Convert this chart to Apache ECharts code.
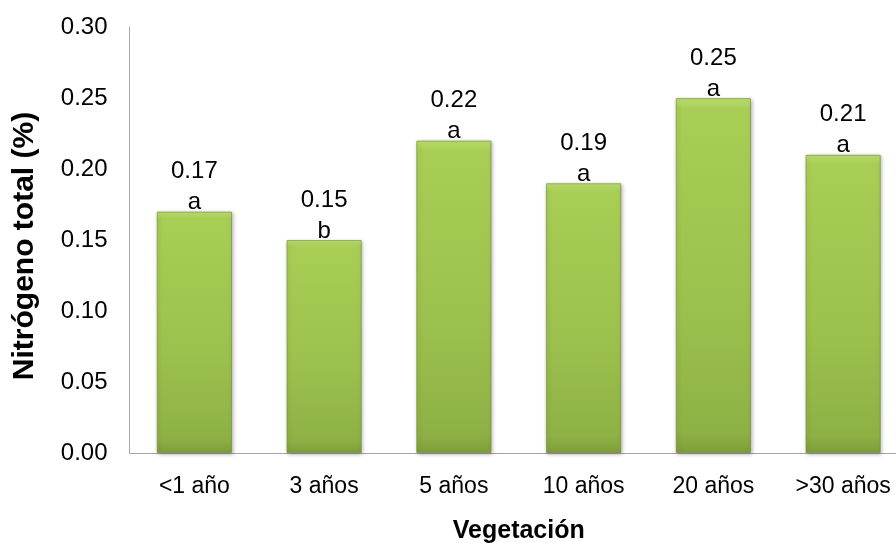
<!DOCTYPE html>
<html><head><meta charset="utf-8">
<script src="https://cdn.jsdelivr.net/npm/echarts@6/dist/echarts.min.js"></script>
<style>html,body{margin:0;padding:0;background:#fff}#c{width:896px;height:543px}</style>
</head><body><div id="c"></div>
<script>
var categories = ['<1 año', '3 años', '5 años', '10 años', '20 años', '>30 años'];
var values = [0.17, 0.15, 0.22, 0.19, 0.25, 0.21];
var letters = ['a', 'b', 'a', 'a', 'a', 'a'];
var yTicks = [0, 0.05, 0.10, 0.15, 0.20, 0.25, 0.30];

var chart = echarts.init(document.getElementById('c'));
var data = values.map(function (v, i) {
  return { value: v, letter: letters[i] };
});
chart.setOption({
  animation: false,
  grid: { left: 129.5, top: 27, width: 778.5, height: 426, outerBoundsMode: 'none', containLabel: false },
  xAxis: {
    type: 'category', data: categories,
    name: 'Vegetación', nameLocation: 'middle', nameGap: 66,
    nameTextStyle: { fontFamily: 'Liberation Sans', fontWeight: 'bold', fontSize: 25, color: '#000' },
    axisLine: { lineStyle: { color: '#a6a6a6', width: 1 } },
    axisTick: { show: false },
    axisLabel: { fontFamily: 'Liberation Sans', fontSize: 23, color: '#000', margin: 22 }
  },
  yAxis: {
    type: 'value', min: yTicks[0], max: yTicks[yTicks.length - 1], interval: 0.05,
    name: 'Nitrógeno total (%)', nameLocation: 'middle', nameGap: 90,
    nameTextStyle: { fontFamily: 'Liberation Sans', fontWeight: 'bold', fontSize: 30, color: '#000', padding: [0, 12, 0, 0] },
    axisLine: { show: true, lineStyle: { color: '#a6a6a6', width: 1 } },
    axisTick: { show: false },
    splitLine: { show: false },
    axisLabel: { fontFamily: 'Liberation Sans', fontSize: 24, color: '#000', margin: 22,
      formatter: function (v) { return v.toFixed(2); } }
  },
  series: [{
    type: 'bar', data: data, barCategoryGap: '42%',
    itemStyle: {
      color: new echarts.graphic.LinearGradient(0, 0, 0, 1, [
        { offset: 0, color: '#bde070' },
        { offset: 0.03, color: '#a8ce55' },
        { offset: 0.6, color: '#9cc04d' },
        { offset: 0.94, color: '#8eb145' },
        { offset: 1, color: '#7f9e3a' }
      ]),
      borderColor: 'rgba(110,140,50,0.6)', borderWidth: 1,
      shadowColor: 'rgba(0,0,0,0.3)', shadowBlur: 4, shadowOffsetX: 1, shadowOffsetY: 1
    },
    label: {
      show: true, position: 'top', distance: 2,
      formatter: function (p) { return '{v|' + p.value.toFixed(2) + '}\n{l|' + p.data.letter + '}'; },
      rich: {
        v: { fontFamily: 'Liberation Sans', fontSize: 24, color: '#000', lineHeight: 48, align: 'center' },
        l: { fontFamily: 'Liberation Sans', fontSize: 24, color: '#000', lineHeight: 14, align: 'center' }
      }
    }
  }]
});
</script></body></html>
